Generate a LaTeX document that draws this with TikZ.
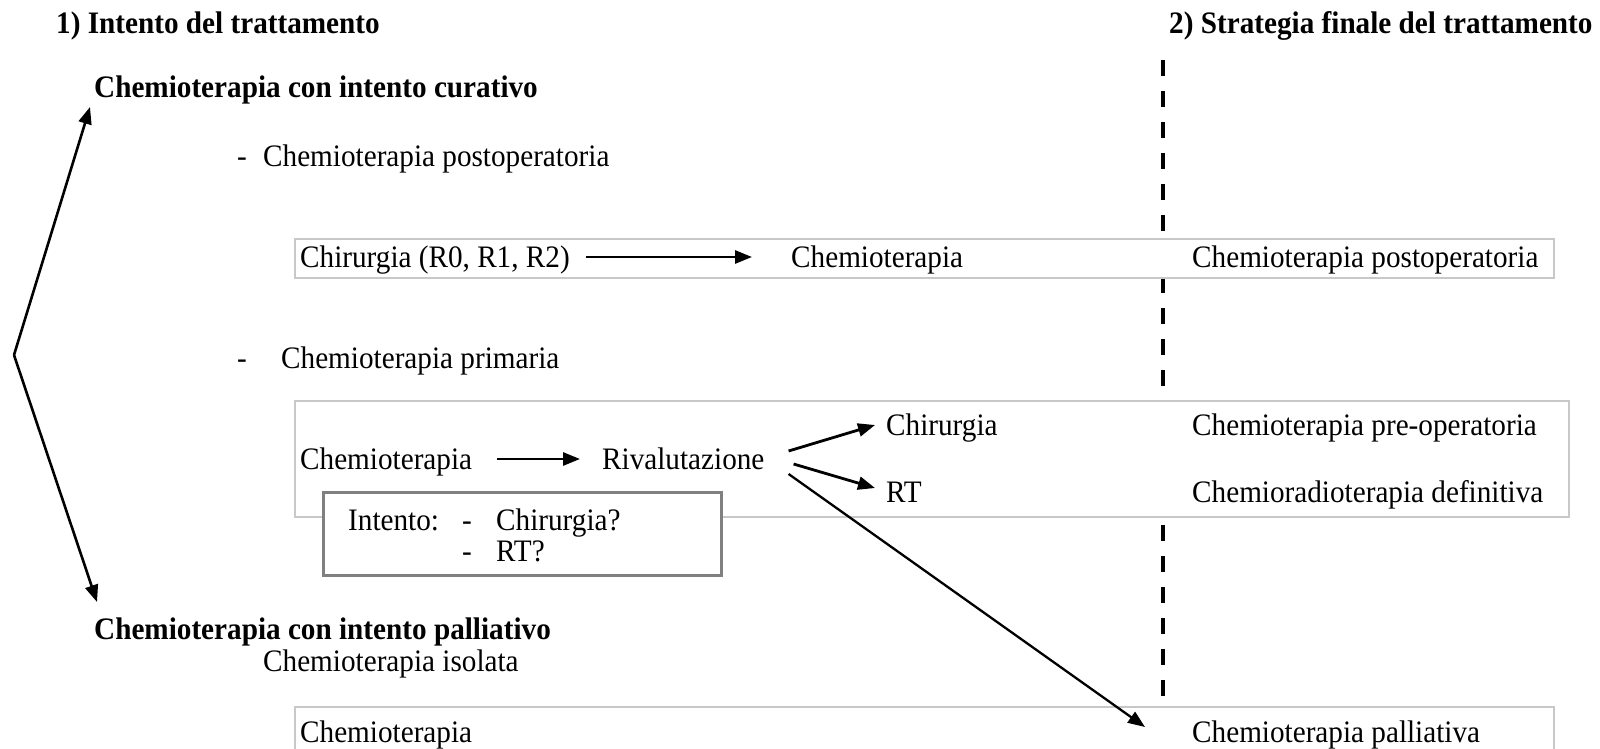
\documentclass[tikz,border=0pt]{standalone}
\usepackage{fontspec}
\usepackage{graphicx}
\setmainfont{Liberation Serif}
\usetikzlibrary{arrows.meta,calc}
\definecolor{boxgray}{RGB}{200,200,200}
\definecolor{igray}{RGB}{128,128,128}
\newcommand{\vst}[1]{\scalebox{1}[1.07]{#1}}
\begin{document}
\begin{tikzpicture}[x=1pt,y=-1pt,
  txt/.style={anchor=base west,inner sep=0pt,font=\fontsize{29.2}{35}\selectfont},
  btxt/.style={anchor=base west,inner sep=0pt,font=\fontsize{29.2}{35}\selectfont\bfseries},
  gbox/.style={draw=boxgray,line width=2pt,fill=white,anchor=north west,inner sep=0pt},
  ibox/.style={draw=igray,line width=3pt,fill=white,anchor=north west,inner sep=0pt},
  arr/.style={line width=2.8pt,-{Triangle[length=17pt,width=13pt]}},
  thinarr/.style={line width=2.3pt,-{Triangle[length=17pt,width=13pt]}},
  brarr/.style={line width=2.6pt,-{Triangle[length=17pt,width=13pt]}},
  dashline/.style={line width=3.5pt,dash pattern=on 16pt off 15pt}
]
\useasboundingbox (0,0) rectangle (1600,749);
\clip (0,0) rectangle (1600,749);

% titles
\node[btxt] (t1) at (56,34) {\vst{1) Intento del trattamento}};
\node[btxt] (t2) at (1169,34) {\vst{2) Strategia finale del trattamento}};

% dashed divider
\coordinate (dtop) at (1163,60);
\coordinate (dbot) at (1163,704);
\draw[dashline] (dtop) -- (dbot);

% curative section
\node[btxt] (cur) at (94,98) {\vst{Chemioterapia con intento curativo}};
\node[txt] (d1) at (237,166) {\vst{-}};
\node[txt] (post) at (263,166) {\vst{Chemioterapia postoperatoria}};

\node[gbox,minimum width=1259pt,minimum height=39pt] (box1) at (294,238) {};
\node[txt] (chir1) at (300,267) {\vst{Chirurgia (R0, R1, R2)}};
\node[txt] (chem1) at (791,267) {\vst{Chemioterapia}};
\node[txt] (res1) at (1192,267) {\vst{Chemioterapia postoperatoria}};
\draw[arr] ($(chir1.base east)+(16,-10)$) -- ($(chem1.base west)+(-39,-10)$);

\node[txt] (d2) at (237,368) {\vst{-}};
\node[txt] (prim) at (281,368) {\vst{Chemioterapia primaria}};

\node[gbox,minimum width=1274pt,minimum height=116pt] (box2) at (294,400) {};
\node[txt] (chem2) at (300,469) {\vst{Chemioterapia}};
\node[txt] (riv) at (602,469) {\vst{Rivalutazione}};
\node[txt] (chir2) at (886,435) {\vst{Chirurgia}};
\node[txt] (rt) at (886,502) {\vst{RT}};
\node[txt] (res2) at (1192,435) {\vst{Chemioterapia pre-operatoria}};
\node[txt] (res3) at (1192,502) {\vst{Chemioradioterapia definitiva}};
\draw[arr] ($(chem2.base east)+(25,-10)$) -- ($(riv.base west)+(-22,-10)$);

% intent box
\node[ibox,minimum width=398pt,minimum height=83pt] (ibx) at (322,491) {};
\node[txt] (int) at (348,530) {\vst{Intento:}};
\node[txt] (d3) at (462,530) {\vst{-}};
\node[txt] (q1) at (496,530) {\vst{Chirurgia?}};
\node[txt] (d4) at (462,561) {\vst{-}};
\node[txt] (q2) at (496,561) {\vst{RT?}};

% palliative section
\node[btxt] (pal) at (94,639) {\vst{Chemioterapia con intento palliativo}};
\node[txt] (iso) at (263,671) {\vst{Chemioterapia isolata}};

\node[gbox,minimum width=1259pt,minimum height=70pt] (box4) at (294,706) {};
\node[txt] (chem4) at (300,742) {\vst{Chemioterapia}};
\node[txt] (res4) at (1192,742) {\vst{Chemioterapia palliativa}};

% arrows from Rivalutazione
\draw[arr] ($(riv.base east)+(24,-18)$) -- ($(chir2.base west)+(-11,-10)$);
\draw[arr] ($(riv.base east)+(29,-5)$) -- ($(rt.base west)+(-11,-14)$);
\draw[thinarr] ($(riv.base east)+(24,5)$) -- ($(res4.base west)+(-47,-15)$);

% bracket arrows
\coordinate (apex) at (14,355);
\draw[brarr] (apex) -- ($(cur.base west)+(-4,9)$);
\draw[brarr] (apex) -- ($(pal.base west)+(3,-37)$);
\end{tikzpicture}
\end{document}
